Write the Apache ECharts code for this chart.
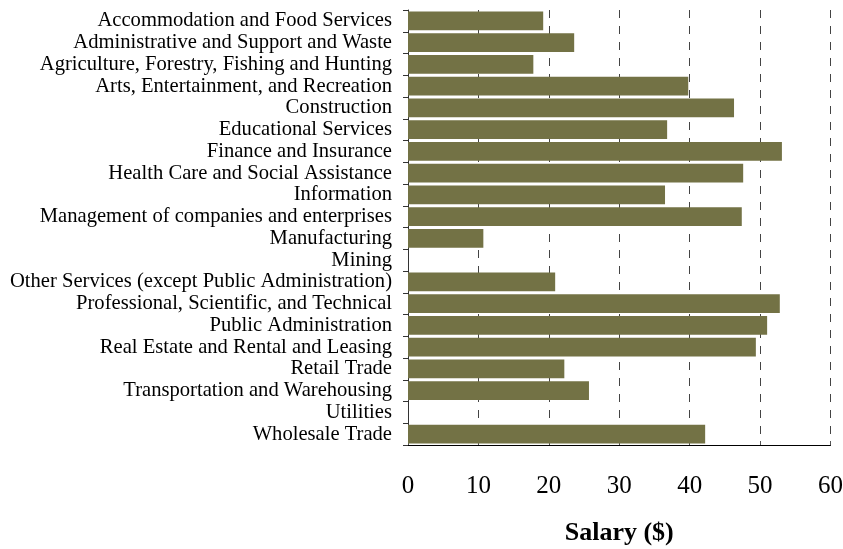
<!DOCTYPE html>
<html><head><meta charset="utf-8">
<script src="https://cdn.jsdelivr.net/npm/echarts@6/dist/echarts.min.js"></script>
<style>html,body{margin:0;padding:0;background:#fff}#c{width:843px;height:549px}</style>
</head><body><div id="c"></div>
<script>
const categories = [
  "Accommodation and Food Services",
  "Administrative and Support and Waste",
  "Agriculture, Forestry, Fishing and Hunting",
  "Arts, Entertainment, and Recreation",
  "Construction",
  "Educational Services",
  "Finance and Insurance",
  "Health Care and Social Assistance",
  "Information",
  "Management of companies and enterprises",
  "Manufacturing",
  "Mining",
  "Other Services (except Public Administration)",
  "Professional, Scientific, and Technical",
  "Public Administration",
  "Real Estate and Rental and Leasing",
  "Retail Trade",
  "Transportation and Warehousing",
  "Utilities",
  "Wholesale Trade"
];
const salary = [19.2, 23.6, 17.8, 39.8, 46.3, 36.8, 53.1, 47.6, 36.5, 47.4, 10.7, 0, 20.9, 52.8, 51.0, 49.4, 22.2, 25.7, 0, 42.2];
const xTicks = [0, 10, 20, 30, 40, 50, 60];

const chart = echarts.init(document.getElementById('c'));
chart.setOption({
  animation: false,
  textStyle: { fontFamily: 'Liberation Serif' },
  grid: { left: 408, right: 12.5, top: 10, bottom: 104, containLabel: false, outerBoundsMode: 'none' },
  xAxis: {
    type: 'value', min: xTicks[0], max: xTicks[xTicks.length - 1], interval: 10,
    name: 'Salary ($)', nameLocation: 'middle', nameGap: 75,
    nameTextStyle: { fontFamily: 'Liberation Serif', fontSize: 26, fontWeight: 'bold', color: '#000' },
    axisLine: { show: true, lineStyle: { color: '#000', width: 1 } },
    axisTick: { show: true, inside: true, length: 4, lineStyle: { color: '#555' } },
    axisLabel: { fontFamily: 'Liberation Serif', fontSize: 25, color: '#000', margin: 29 },
    splitLine: { show: true, lineStyle: { type: [8, 8], color: '#444', width: 1 } }
  },
  yAxis: {
    type: 'category', data: categories, inverse: true,
    axisLine: { show: true, lineStyle: { color: '#333' } },
    axisTick: { show: true, length: 5, lineStyle: { color: '#333' } },
    axisLabel: { fontFamily: 'Liberation Serif', fontSize: 20.6, color: '#000', margin: 16, interval: 0, hideOverlap: false, padding: [2, 0, 0, 0] }
  },
  series: [{
    type: 'bar', data: salary, barCategoryGap: '13%',
    itemStyle: { color: '#737245' }
  }]
});
</script></body></html>
